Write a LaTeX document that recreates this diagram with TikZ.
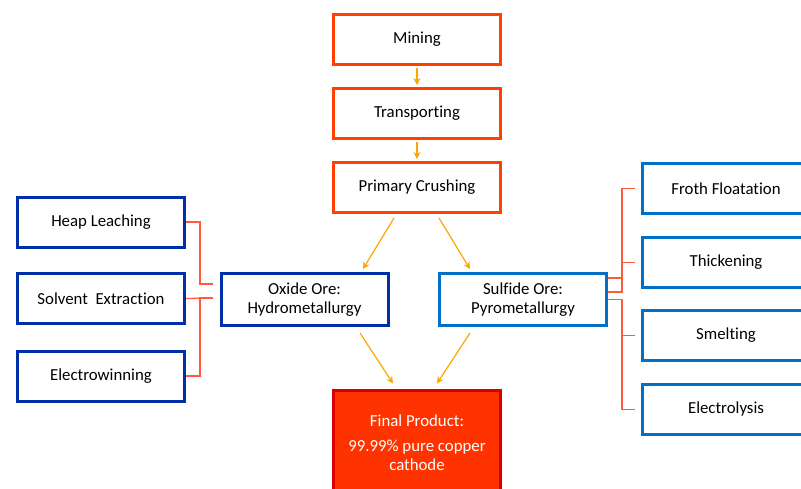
\documentclass[tikz,border=0pt]{standalone}
\usepackage{fontspec}
\setmainfont{Carlito}[Ligatures=NoCommon]
\usetikzlibrary{arrows.meta}
\definecolor{boxred}{HTML}{FF4000}
\definecolor{dblue}{HTML}{0030A8}
\definecolor{mblue}{HTML}{0070C8}
\definecolor{brred}{HTML}{FF5A3C}
\definecolor{arrorange}{HTML}{FFA500}
\definecolor{finfill}{HTML}{FF3300}
\definecolor{finborder}{HTML}{D80000}
\tikzset{
  base/.style={rectangle, line width=3pt, fill=white, minimum width=167pt, minimum height=50pt, align=center, font=\fontsize{16.8}{19}\selectfont, text=black, inner sep=0pt},
  redbox/.style={base, draw=boxred},
  dbox/.style={base, draw=dblue},
  mbox/.style={base, draw=mblue},
  br/.style={draw=brred, line width=1.3pt},
  arr/.style={draw=arrorange, line width=1.2pt, -{Stealth[length=7pt,width=7pt]}},
}
\begin{document}
\begin{tikzpicture}[x=1pt,y=-1pt]
\useasboundingbox (0,0) rectangle (801,488);
\clip (0,0) rectangle (801,488);
% top column
\node[redbox] (mining) at (417,39.5) {Mining};
\node[redbox] (transp) at (417,113.5) {Transporting};
\node[redbox] (crush) at (417,187.5) {Primary Crushing};
% middle
\node[dbox, minimum height=52pt] (oxide) at (304.5,299.5) {Oxide Ore:\\Hydrometallurgy};
\node[mbox, minimum height=52pt] (sulfide) at (523,299.5) {Sulfide Ore:\\Pyrometallurgy};
% left
\node[dbox] (heap) at (101,222) {Heap Leaching};
\node[dbox] (solvent) at (101,298.5) {Solvent\ \ Extraction};
\node[dbox] (electro) at (101,376) {Electrowinning};
% right
\node[mbox] (froth) at (726,188.5) {Froth Floatation};
\node[mbox] (thick) at (726,262.5) {Thickening};
\node[mbox] (smelt) at (726,335.5) {Smelting};
\node[mbox] (elys) at (726,409.5) {Electrolysis};
% final
\node[base, draw=finborder, fill=finfill, text=white, minimum height=106pt, minimum width=167pt] (final) at (417,443) {Final Product:\\[6pt]99.99\% pure copper\\cathode};
% left brackets
\coordinate (la) at (213,284);
\coordinate (lb) at (213,298);
\draw[br] (heap.east) -- ++(14,0) |- (la);
\draw[br] (solvent.east) -- (lb);
\draw[br] (electro.east) -- ++(14,0) |- (lb);
% right brackets
\draw[br] ([yshift=21.5pt]sulfide.east) -- ++(14,0);
\draw[br] ([yshift=7.5pt]sulfide.east) -- ++(14,0) coordinate (rj) |- ([xshift=-6pt]froth.west);
\draw[br] (rj |- thick.west) -- ([xshift=-6pt]thick.west);
\draw[br] (sulfide.east) -- ++(14,0) |- ([xshift=-6pt]elys.west);
\draw[br] (rj |- smelt.west) -- ([xshift=-6pt]smelt.west);
% arrows
\draw[arr, shorten <=2pt, shorten >=2pt] (mining.south) -- (transp.north);
\draw[arr, shorten <=2pt, shorten >=2pt] (transp.south) -- (crush.north);
\draw[arr] ([xshift=-23pt,yshift=-4pt]crush.south) -- ([xshift=58.5pt,yshift=3pt]oxide.north);
\draw[arr] ([xshift=22pt,yshift=-4pt]crush.south) -- ([xshift=-53pt,yshift=3pt]sulfide.north);
\draw[arr] ([xshift=55.5pt,yshift=-6pt]oxide.south) -- ([xshift=-24pt,yshift=5pt]final.north);
\draw[arr] ([xshift=-53pt,yshift=-6pt]sulfide.south) -- ([xshift=20pt,yshift=5pt]final.north);
\end{tikzpicture}
\end{document}
